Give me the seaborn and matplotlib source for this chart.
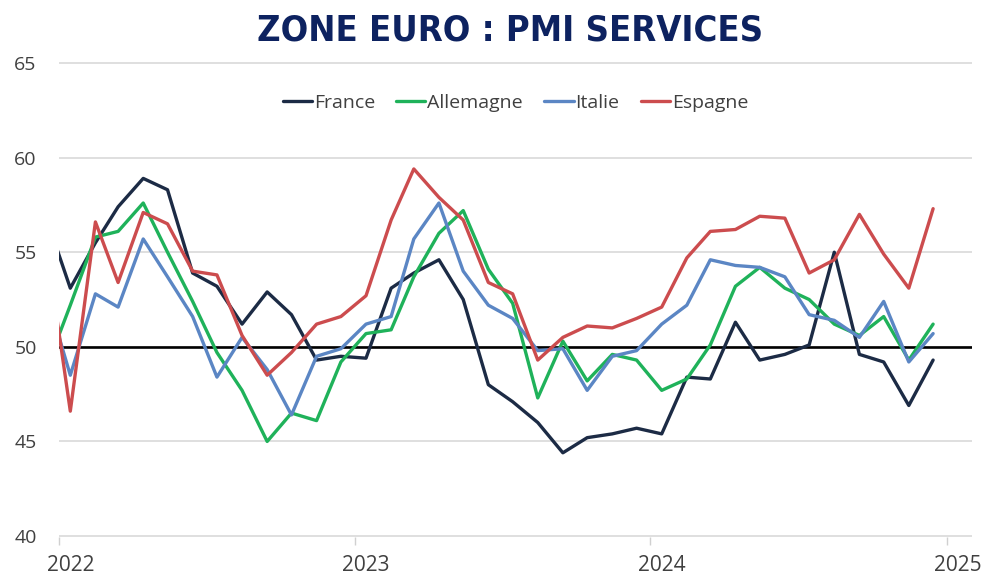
import pandas as pd
import matplotlib.pyplot as plt
import matplotlib.dates as mdates
from matplotlib import font_manager
import seaborn as sns

# PMI services, from Dec 2021 to Dec 2024 (monthly)
months = pd.date_range('2021-12-01', '2024-12-01', freq='MS') + pd.Timedelta(days=14)

france = [57.0,
          53.1, 55.5, 57.4, 58.9, 58.3, 53.9, 53.2, 51.2, 52.9, 51.7, 49.3, 49.5,
          49.4, 53.1, 53.9, 54.6, 52.5, 48.0, 47.1, 46.0, 44.4, 45.2, 45.4, 45.7,
          45.4, 48.4, 48.3, 51.3, 49.3, 49.6, 50.1, 55.0, 49.6, 49.2, 46.9, 49.3]
allemagne = [48.7,
             52.2, 55.8, 56.1, 57.6, 55.0, 52.4, 49.7, 47.7, 45.0, 46.5, 46.1, 49.2,
             50.7, 50.9, 53.7, 56.0, 57.2, 54.1, 52.3, 47.3, 50.3, 48.2, 49.6, 49.3,
             47.7, 48.3, 50.1, 53.2, 54.2, 53.1, 52.5, 51.2, 50.6, 51.6, 49.3, 51.2]
italie = [53.0,
          48.5, 52.8, 52.1, 55.7, 53.7, 51.6, 48.4, 50.5, 48.8, 46.4, 49.5, 49.9,
          51.2, 51.6, 55.7, 57.6, 54.0, 52.2, 51.5, 49.8, 49.9, 47.7, 49.5, 49.8,
          51.2, 52.2, 54.6, 54.3, 54.2, 53.7, 51.7, 51.4, 50.5, 52.4, 49.2, 50.7]
espagne = [55.8,
           46.6, 56.6, 53.4, 57.1, 56.5, 54.0, 53.8, 50.6, 48.5, 49.7, 51.2, 51.6,
           52.7, 56.7, 59.4, 57.9, 56.7, 53.4, 52.8, 49.3, 50.5, 51.1, 51.0, 51.5,
           52.1, 54.7, 56.1, 56.2, 56.9, 56.8, 53.9, 54.6, 57.0, 54.9, 53.1, 57.3]

pays = ['France', 'Allemagne', 'Italie', 'Espagne']
couleurs = {'France': '#1c2b45', 'Allemagne': '#1fb25a',
            'Italie': '#5b86c4', 'Espagne': '#cc4c4e'}

df = pd.DataFrame({'date': months, 'France': france, 'Allemagne': allemagne,
                   'Italie': italie, 'Espagne': espagne})
df = df.melt(id_vars='date', var_name='pays', value_name='pmi')

sns.set_style('white')
plt.rcParams['font.family'] = ['Open Sans', 'DejaVu Sans']

# police étroite pour le titre si dispo
titre_font = None
for f in font_manager.fontManager.ttflist:
    nom = (f.name + ' ' + f.fname).lower()
    if ('condensed' in nom or 'narrow' in nom) and f.weight in (700, 'bold'):
        titre_font = f.fname
        break

fig = plt.figure(figsize=(9.86, 5.77), dpi=100)
ax = fig.add_axes([0.0598, 0.0693, 0.9260, 0.8232])

sns.lineplot(data=df, x='date', y='pmi', hue='pays', hue_order=pays,
             palette=couleurs, linewidth=2.4, ax=ax, zorder=3)
ax.axhline(50, color='black', linewidth=1.9, zorder=2)

ax.set_ylim(39.95, 65.05)
ax.set_xlim(pd.Timestamp('2022-01-01'), pd.Timestamp('2025-02-01'))
ax.set_yticks([40, 45, 50, 55, 60, 65])
ax.yaxis.grid(True, color='#dcdcdc', linewidth=1.3)
ax.set_axisbelow(True)
sns.despine(ax=ax, left=True, bottom=True)

# ticks aux changements d'année, libellés sur janvier
years = pd.to_datetime(['2022-01-01', '2023-01-01', '2024-01-01', '2025-01-01'])
ax.set_xticks(years)
ax.set_xticklabels([])
ax.set_xticks(years + pd.Timedelta(days=14), minor=True)
ax.xaxis.set_minor_formatter(mdates.DateFormatter('%Y'))
ax.tick_params(axis='x', which='major', length=6, width=1, color='#d0d0d0',
               direction='out', bottom=True)
ax.tick_params(axis='x', which='minor', length=0, pad=13, labelsize=15,
               labelcolor='#404040')
ax.tick_params(axis='y', length=0, pad=16, labelsize=14, labelcolor='#404040')
ax.set_xlabel('')
ax.set_ylabel('')

old = ax.get_legend()
handles = old.legend_handles
labels = [t.get_text() for t in old.texts]
ax.legend(handles, labels, loc='center', bbox_to_anchor=(0.5, 0.914), ncol=4,
          frameon=False, fontsize=14, handlelength=1.5, handletextpad=0.1,
          columnspacing=1.1, labelcolor='#404040')

if titre_font:
    fig.text(0.517, 0.948, 'ZONE EURO : PMI SERVICES', ha='center', va='center',
             color='#0d2260',
             fontproperties=font_manager.FontProperties(fname=titre_font, size=26))
else:
    fig.text(0.517, 0.948, 'ZONE EURO : PMI SERVICES', ha='center', va='center',
             fontsize=26, fontweight='bold', color='#0d2260',
             family=['Liberation Sans', 'DejaVu Sans'])

fig.savefig('out.png', dpi=100)
